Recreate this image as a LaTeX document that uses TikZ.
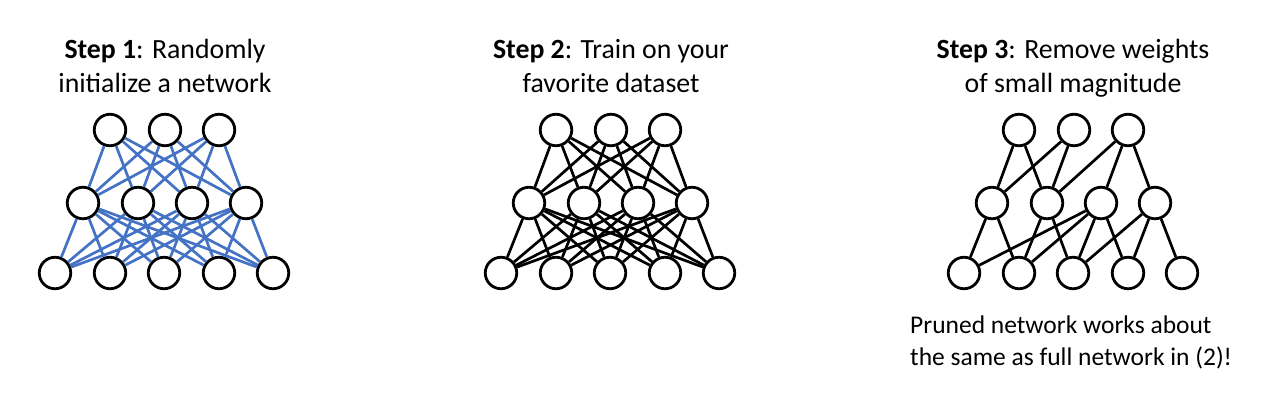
\documentclass[tikz,border=0pt]{standalone}
\usepackage{fontspec}
\setmainfont{Carlito}
\definecolor{edgeblue}{HTML}{4472C4}
\begin{document}
\begin{tikzpicture}[x=1pt,y=-1pt,
  neuron/.style={circle,draw=black,fill=white,line width=2.8pt,minimum size=31.5pt,inner sep=0pt},
  wblue/.style={line width=2.7pt,draw=edgeblue},
  wblack/.style={line width=2.7pt,draw=black},
  titletext/.style={font=\fontsize{27.8}{33}\selectfont,anchor=base,inner sep=0pt},
  notetext/.style={font=\fontsize{25.5}{31}\selectfont,anchor=base west,inner sep=0pt}]
\useasboundingbox (0,0) rectangle (1268,410);
% nodes
\foreach \s/\dx in {1/0,2/446,3/909}{
  \foreach \i/\x in {1/110,2/165,3/219}
    \node[neuron] (t\s\i) at (\x+\dx,130) {};
  \foreach \i/\x in {1/83,2/138,3/192,4/246}
    \node[neuron] (m\s\i) at (\x+\dx,203) {};
  \foreach \i/\x in {1/55,2/110,3/164,4/219,5/273}
    \node[neuron] (b\s\i) at (\x+\dx,273) {};
}
% edges step 1 and 2
\foreach \s/\st in {1/wblue,2/wblack}{
  \foreach \i in {1,2,3}
    \foreach \j in {1,2,3,4}
      \draw[\st] (t\s\i) -- (m\s\j);
  \foreach \i in {1,2,3,4}
    \foreach \j in {1,2,3,4,5}
      \draw[\st] (m\s\i) -- (b\s\j);
}
% edges step 3
\foreach \i/\j in {1/1,1/2,2/1,2/2,3/2,3/3,3/4}
  \draw[wblack] (t3\i) -- (m3\j);
\foreach \i/\j in {1/1,1/2,2/2,2/3,3/1,3/2,3/3,3/4,4/3,4/4,4/5}
  \draw[wblack] (m3\i) -- (b3\j);
% titles
\node[titletext] (h1a) at (165,58) {\textbf{Step 1}: Randomly};
\node[titletext] (h1b) at (165,92) {initialize a network};
\node[titletext] (h2a) at (611,58) {\textbf{Step 2}: Train on your};
\node[titletext] (h2b) at (611,92) {favorite dataset};
\node[titletext] (h3a) at (1073,58) {\textbf{Step 3}: Remove weights};
\node[titletext] (h3b) at (1073,92) {of small magnitude};
\node[notetext] (n1) at (910,333) {Pruned network works about};
\node[notetext] (n2) at (910,365) {the same as full network in (2)!};
\end{tikzpicture}
\end{document}
